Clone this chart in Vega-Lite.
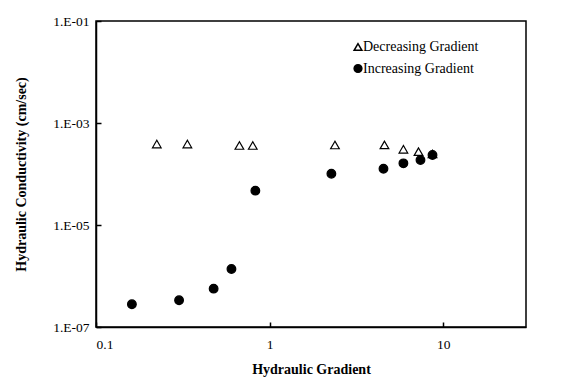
{
  "$schema": "https://vega.github.io/schema/vega-lite/v6.json",
  "autosize": "none",
  "width": 430,
  "height": 306,
  "padding": {"left": 96, "top": 21, "right": 37, "bottom": 57},
  "background": "white",
  "config": {
    "font": "Liberation Serif",
    "view": {"stroke": "black", "strokeWidth": 1.5},
    "axis": {"grid": false, "domainColor": "black", "tickColor": "black", "labelColor": "black", "titleColor": "black", "labelFont": "Liberation Serif", "titleFont": "Liberation Serif", "labelFontSize": 13.5, "titleFontSize": 14, "titleFontWeight": "bold", "tickSize": -5, "domainWidth": 1.5, "tickWidth": 1.5},
    "legend": {"labelFont": "Liberation Serif"}
  },
  "data": {
    "values": [
      {"g": 0.224, "k": 3.87e-4, "s": "Decreasing Gradient"},
      {"g": 0.336, "k": 3.87e-4, "s": "Decreasing Gradient"},
      {"g": 0.670, "k": 3.62e-4, "s": "Decreasing Gradient"},
      {"g": 0.800, "k": 3.62e-4, "s": "Decreasing Gradient"},
      {"g": 2.38, "k": 3.70e-4, "s": "Decreasing Gradient"},
      {"g": 4.59, "k": 3.72e-4, "s": "Decreasing Gradient"},
      {"g": 5.90, "k": 3.05e-4, "s": "Decreasing Gradient"},
      {"g": 7.21, "k": 2.74e-4, "s": "Decreasing Gradient"},
      {"g": 8.68, "k": 2.47e-4, "s": "Decreasing Gradient"},
      {"g": 0.161, "k": 2.79e-7, "s": "Increasing Gradient"},
      {"g": 0.301, "k": 3.34e-7, "s": "Increasing Gradient"},
      {"g": 0.476, "k": 5.64e-7, "s": "Increasing Gradient"},
      {"g": 0.603, "k": 1.37e-6, "s": "Increasing Gradient"},
      {"g": 0.828, "k": 4.71e-5, "s": "Increasing Gradient"},
      {"g": 2.27, "k": 1.01e-4, "s": "Increasing Gradient"},
      {"g": 4.53, "k": 1.27e-4, "s": "Increasing Gradient"},
      {"g": 5.90, "k": 1.62e-4, "s": "Increasing Gradient"},
      {"g": 7.40, "k": 1.88e-4, "s": "Increasing Gradient"},
      {"g": 8.68, "k": 2.36e-4, "s": "Increasing Gradient"}
    ]
  },
  "mark": {"type": "point", "stroke": "black", "strokeWidth": 1.2, "opacity": 1},
  "encoding": {
    "x": {"field": "g", "type": "quantitative", "title": "Hydraulic Gradient",
      "scale": {"type": "log", "domain": [0.1, 30], "nice": false},
      "axis": {"values": [0.1, 1, 10], "labelExpr": "datum.value < 1 ? '0.1' : format(datum.value, 'd')", "labelPadding": 15, "titlePadding": 12}},
    "y": {"field": "k", "type": "quantitative", "title": "Hydraulic Conductivity (cm/sec)",
      "scale": {"type": "log", "domain": [1e-7, 0.1], "nice": false},
      "axis": {"values": [1e-7, 1e-5, 1e-3, 1e-1], "labelExpr": "'1.E-0' + round(-log(datum.value)/LN10)", "labelPadding": 12, "titlePadding": 24}},
    "shape": {"field": "s", "type": "nominal", "title": null,
      "scale": {"domain": ["Decreasing Gradient", "Increasing Gradient"], "range": ["triangle-up", "circle"]},
      "legend": {"orient": "none", "legendX": 255, "legendY": 19, "labelFontSize": 14, "labelColor": "black", "rowPadding": 7.5, "labelOffset": -2, "symbolSize": 60,
        "encode": {"symbols": {"update": {"stroke": {"value": "black"}, "strokeWidth": {"value": 1.2}, "opacity": {"value": 1}}}}}},
    "fill": {"field": "s", "type": "nominal", "title": null,
      "scale": {"domain": ["Decreasing Gradient", "Increasing Gradient"], "range": ["white", "black"]}},
    "size": {"value": 75}
  }
}
